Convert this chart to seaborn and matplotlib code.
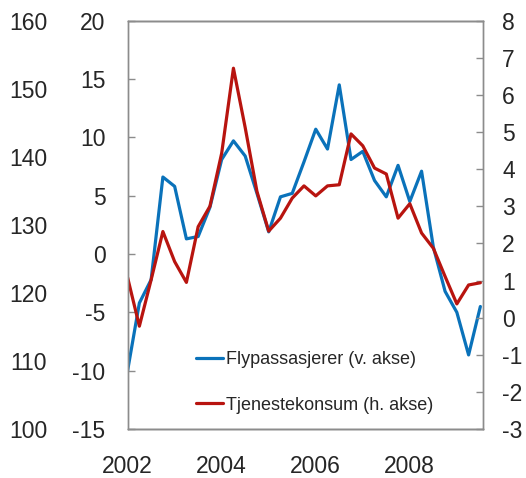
import matplotlib
matplotlib.use('Agg')
import matplotlib.pyplot as plt
import numpy as np
import pandas as pd
import seaborn as sns

# quarterly data, 2002Q1 - 2009Q3
flypassasjerer = [-10.0, -4.2, -2.2, 6.6, 5.8, 1.3, 1.5, 4.0, 8.1, 9.7,
                  8.4, 5.2, 1.9, 4.9, 5.2, 7.9, 10.7, 9.0, 14.5, 8.1,
                  8.8, 6.3, 4.9, 7.6, 4.5, 7.1, 0.6, -3.2, -5.0, -8.65,
                  -4.5]
tjenestekonsum = [1.08, -0.23, 1.02, 2.32, 1.51, 0.95, 2.45, 3.0, 4.43, 6.72,
                  5.12, 3.4, 2.33, 2.68, 3.22, 3.55, 3.28, 3.55, 3.58, 4.95,
                  4.63, 4.03, 3.87, 2.68, 3.07, 2.28, 1.87, 1.11, 0.37, 0.88,
                  0.94]
x_labels = ['2002', '2004', '2006', '2008']

years = 2002 + np.arange(len(flypassasjerer)) / 4
df = pd.DataFrame({'year': years,
                   'fly': flypassasjerer,
                   'tjen': tjenestekonsum})

blue = '#0a72ba'
red = '#b8140f'
grey = '#8c8c8c'

sns.set_style('white')
plt.rcParams['font.family'] = ['Liberation Sans', 'DejaVu Sans']
plt.rcParams['axes.unicode_minus'] = False

fig = plt.figure(figsize=(5.26, 4.78), dpi=100)
ax = fig.add_axes([0.2426, 0.1025, 0.6751, 0.8542])
ax2 = ax.twinx()
ax3 = ax.twinx()

sns.lineplot(data=df, x='year', y='fly', ax=ax, color=blue, lw=2.3,
             label='Flypassasjerer (v. akse)', legend=False)
sns.lineplot(data=df, x='year', y='tjen', ax=ax2, color=red, lw=2.3,
             label='Tjenestekonsum (h. akse)', legend=False)

ax.set_xlim(2002, 2009.55)
ax.set_ylim(-15, 20)
ax.set_yticks(np.arange(-15, 21, 5))
ax.set_xticks([int(t) for t in x_labels])
ax.set_xticklabels(x_labels)
ax2.set_ylim(-3, 8)
ax2.set_yticks(np.arange(-3, 9, 1))
ax3.set_ylim(100, 160)
ax3.set_yticks(np.arange(100, 161, 10))

for a in (ax, ax2, ax3):
    a.set_xlabel('')
    a.set_ylabel('')
    for s in a.spines.values():
        s.set_color(grey)
        s.set_linewidth(1)

ax.tick_params(axis='y', direction='in', length=5, width=1, color=grey,
               labelsize=16.5, pad=16)
ax.tick_params(axis='x', direction='in', length=4.5, width=1, color=grey,
               labelsize=16.5, pad=19)
ax2.tick_params(axis='y', direction='in', length=5, width=1, color=grey,
                labelsize=16.5, pad=14)

# extra scale on the far left, without spine or ticks
ax3.yaxis.set_ticks_position('left')
ax3.yaxis.set_label_position('left')
ax3.spines['left'].set_position(('outward', 58))
ax3.spines['left'].set_visible(False)
ax3.spines['right'].set_visible(False)
ax3.tick_params(axis='y', length=0, labelsize=16.5, pad=0)

h1, l1 = ax.get_legend_handles_labels()
h2, l2 = ax2.get_legend_handles_labels()
fig.legend(h1 + h2, l1 + l2, loc='upper left',
           bbox_to_anchor=(0.358, 0.281), frameon=False, fontsize=13,
           handlelength=1.5, handletextpad=0.2, labelspacing=1.6,
           borderaxespad=0)

plt.savefig('out.png', dpi=100)
plt.close()
